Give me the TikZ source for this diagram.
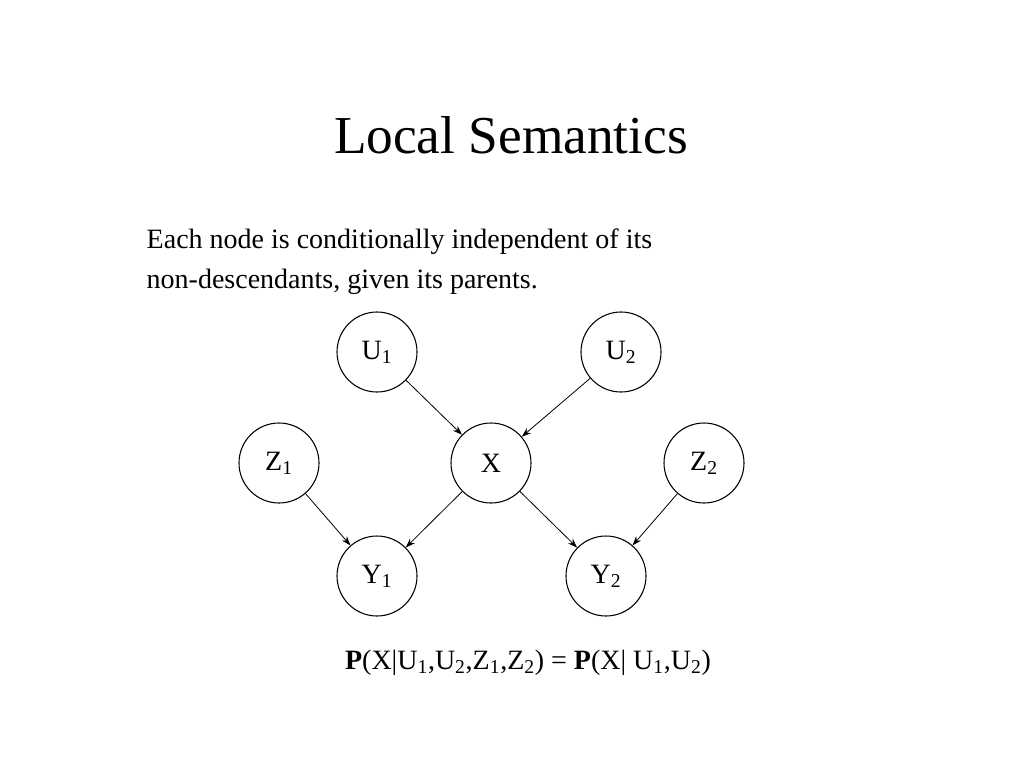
\documentclass[tikz,border=0pt]{standalone}
\usepackage{amsmath}
\usepackage{fontspec}
\setmainfont{Liberation Serif}
\usetikzlibrary{arrows.meta}
\tikzset{
    var node/.style = {circle, draw, thick, minimum size=60pt, inner sep=0pt, font=\fontsize{21}{25}\selectfont},
    link/.style = {-{Stealth[length=7pt,width=5pt]}, semithick}
}
\begin{document}
\begin{tikzpicture}[x=0.75pt, y=-0.75pt]
    \useasboundingbox (0, 0) rectangle (1024, 768);
    % title and text
    \node (title) at (511, 135) {\fontsize{40}{48}\selectfont Local Semantics};
    \node[anchor=west, align=left, font=\fontsize{21}{30}\selectfont] (intro) at (142, 262)
        {Each node is conditionally independent of its\\non-descendants, given its parents.};
    % nodes
    \node[var node] (u1) at (377, 352) {U$_{\text{1}}$};
    \node[var node] (u2) at (621, 352) {U$_{\text{2}}$};
    \node[var node] (z1) at (279, 463) {Z$_{\text{1}}$};
    \node[var node] (x)  at (491, 463) {X};
    \node[var node] (z2) at (704, 463) {Z$_{\text{2}}$};
    \node[var node] (y1) at (377, 576) {Y$_{\text{1}}$};
    \node[var node] (y2) at (606, 576) {Y$_{\text{2}}$};
    % links
    \draw[link] (u1) -- (x);
    \draw[link] (u2) -- (x);
    \draw[link] (z1) -- (y1);
    \draw[link] (x) -- (y1);
    \draw[link] (x) -- (y2);
    \draw[link] (z2) -- (y2);
    % formula
    \node[font=\fontsize{21}{25}\selectfont] (formula) at (528, 663)
        {\textbf{P}(X|U$_{\text{1}}$,U$_{\text{2}}$,Z$_{\text{1}}$,Z$_{\text{2}}$) = \textbf{P}(X| U$_{\text{1}}$,U$_{\text{2}}$)};
\end{tikzpicture}
\end{document}
